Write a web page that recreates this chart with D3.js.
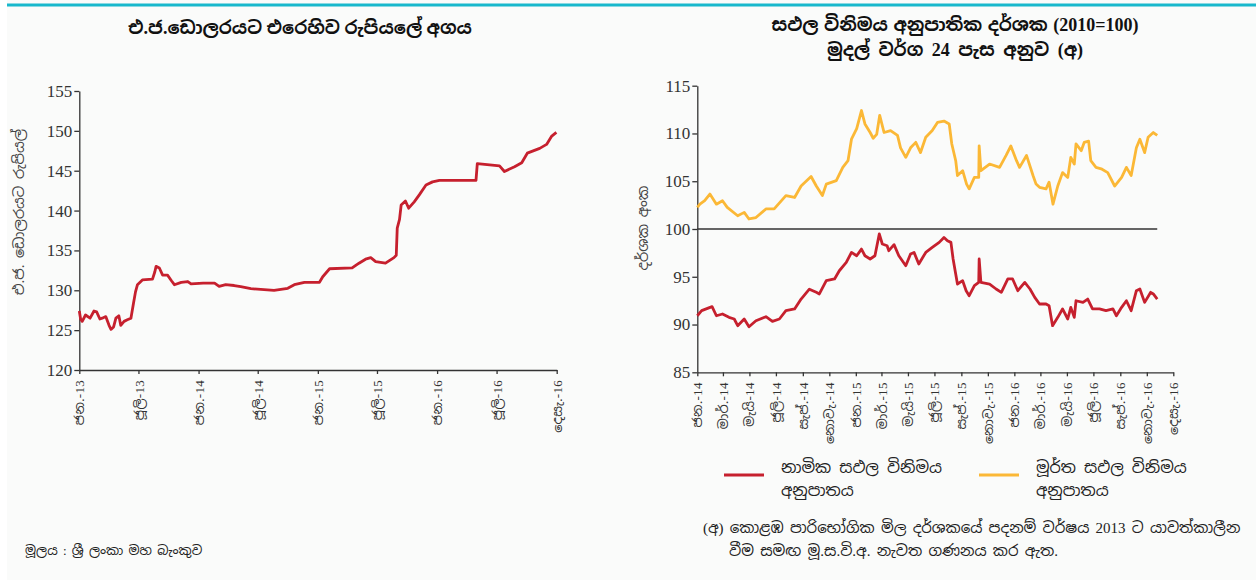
<!DOCTYPE html>
<html><head><meta charset="utf-8">
<script src="https://cdn.jsdelivr.net/npm/d3@7"></script>
<style>
html,body{margin:0;padding:0;background:#fafbfa;}
svg{display:block;}
.sin{font-family:"Liberation Serif","Noto Sans Sinhala","Iskoola Pota","Noto Serif Sinhala",serif;}
</style></head>
<body><svg id="c" width="1256" height="580"></svg>
<script>
// ---------- Left chart: LKR per USD ----------
const usdDates = ["2013-01-01","2013-01-05","2013-01-10","2013-01-20","2013-02-03","2013-02-15","2013-02-23","2013-03-05","2013-03-12","2013-03-23","2013-04-02","2013-04-08","2013-04-16","2013-04-23","2013-05-02","2013-05-08","2013-05-18","2013-05-28","2013-06-08","2013-06-16","2013-06-22","2013-06-28","2013-07-13","2013-08-13","2013-08-20","2013-08-24","2013-09-03","2013-09-13","2013-09-28","2013-10-10","2013-10-19","2013-11-09","2013-11-29","2013-12-09","2014-01-15","2014-02-19","2014-03-05","2014-03-25","2014-04-20","2014-05-10","2014-06-10","2014-08-20","2014-10-01","2014-10-21","2014-11-21","2015-01-06","2015-01-16","2015-02-06","2015-04-16","2015-05-07","2015-05-27","2015-06-12","2015-06-27","2015-07-27","2015-08-22","2015-08-29","2015-09-01","2015-09-08","2015-09-13","2015-09-26","2015-10-06","2015-10-23","2015-11-08","2015-11-28","2015-12-18","2016-01-08","2016-04-29","2016-05-03","2016-07-10","2016-07-25","2016-08-25","2016-09-16","2016-10-03","2016-11-10","2016-12-01","2016-12-16","2016-12-31"];
const usdValues = [127.4,126.4,126.1,126.9,126.5,127.4,127.3,126.4,126.5,126.7,125.6,125.1,125.4,126.5,126.8,125.6,126.1,126.3,126.5,128.4,129.8,130.7,131.3,131.4,132.3,133.0,132.8,131.9,131.9,131.2,130.7,131.0,131.1,130.8,130.9,130.9,130.5,130.7,130.6,130.45,130.2,130.0,130.25,130.7,131.0,131.0,131.7,132.7,132.8,133.4,133.9,134.1,133.6,133.4,134.1,134.4,137.8,138.9,140.7,141.2,140.3,141.1,142.0,143.2,143.6,143.8,143.8,145.9,145.6,144.9,145.5,146.0,147.2,147.8,148.3,149.3,149.8];
const leftYTicks = [120,125,130,135,140,145,150,155];
const leftXTickDates = ["2013-01-01","2013-07-01","2014-01-01","2014-07-01","2015-01-01","2015-07-01","2016-01-01","2016-07-01","2017-01-01"];
const leftXTickLabels = ["ජන.-13","ජූලි-13","ජන.-14","ජූලි-14","ජන.-15","ජූලි-15","ජන.-16","ජූලි-16","දෙසැ.-16"];

// ---------- Right chart: NEER / REER ----------
const neerDates = ["2014-01-01","2014-01-11","2014-02-04","2014-02-14","2014-02-28","2014-03-15","2014-03-27","2014-04-04","2014-04-19","2014-04-30","2014-05-16","2014-06-08","2014-06-23","2014-07-09","2014-07-24","2014-08-13","2014-08-28","2014-09-16","2014-10-02","2014-10-09","2014-10-25","2014-11-13","2014-11-24","2014-12-10","2014-12-22","2015-01-03","2015-01-14","2015-01-22","2015-02-03","2015-02-14","2015-02-24","2015-03-03","2015-03-14","2015-03-18","2015-03-30","2015-04-10","2015-04-26","2015-05-07","2015-05-15","2015-05-26","2015-06-11","2015-06-26","2015-07-12","2015-07-23","2015-07-31","2015-08-08","2015-08-13","2015-08-19","2015-08-23","2015-09-04","2015-09-12","2015-09-19","2015-10-01","2015-10-11","2015-10-12","2015-10-16","2015-11-05","2015-11-20","2015-12-02","2015-12-17","2015-12-28","2016-01-09","2016-01-25","2016-02-06","2016-02-17","2016-02-28","2016-03-14","2016-03-21","2016-03-29","2016-04-10","2016-04-21","2016-05-03","2016-05-10","2016-05-18","2016-05-22","2016-06-07","2016-06-18","2016-06-29","2016-07-15","2016-07-30","2016-08-15","2016-08-23","2016-09-04","2016-09-15","2016-09-26","2016-10-08","2016-10-16","2016-10-27","2016-11-10","2016-11-16","2016-11-25"];
const neerValues = [90.92,91.45,91.87,90.92,91.1,90.75,90.58,89.88,90.58,89.77,90.4,90.82,90.33,90.58,91.45,91.63,92.67,93.7,93.37,93.2,94.59,94.77,95.63,96.5,97.55,97.2,97.9,97.2,96.86,97.2,99.48,98.43,98.25,97.73,98.36,97.2,96.16,97.38,97.55,96.34,97.55,98.07,98.6,99.12,98.78,98.6,96.86,95.29,94.24,94.59,93.54,93.02,94.07,94.41,96.86,94.41,94.24,93.72,93.37,94.77,94.77,93.54,94.41,93.72,92.84,92.15,92.15,91.97,89.88,90.75,91.63,90.58,91.8,90.75,92.49,92.32,92.67,91.63,91.63,91.45,91.63,90.92,91.8,92.49,91.45,93.54,93.72,92.32,93.37,93.2,92.67];
const reerDates = ["2014-01-01","2014-01-07","2014-01-18","2014-01-30","2014-02-14","2014-02-28","2014-03-11","2014-04-04","2014-04-19","2014-04-30","2014-05-16","2014-06-08","2014-06-27","2014-07-24","2014-08-13","2014-08-28","2014-09-20","2014-10-02","2014-10-16","2014-10-25","2014-11-17","2014-12-02","2014-12-14","2014-12-22","2015-01-03","2015-01-14","2015-01-22","2015-02-03","2015-02-10","2015-02-18","2015-02-25","2015-03-07","2015-03-22","2015-04-07","2015-04-14","2015-04-26","2015-05-07","2015-05-19","2015-05-30","2015-06-11","2015-06-26","2015-07-08","2015-07-23","2015-08-04","2015-08-10","2015-08-19","2015-08-23","2015-09-04","2015-09-13","2015-09-19","2015-10-01","2015-10-11","2015-10-12","2015-10-16","2015-11-05","2015-11-28","2015-12-13","2015-12-24","2016-01-06","2016-01-13","2016-01-29","2016-02-13","2016-02-20","2016-02-28","2016-03-14","2016-03-21","2016-03-30","2016-04-10","2016-04-21","2016-05-03","2016-05-10","2016-05-18","2016-05-22","2016-06-03","2016-06-10","2016-06-20","2016-06-25","2016-07-07","2016-07-19","2016-08-03","2016-08-19","2016-09-04","2016-09-15","2016-09-26","2016-10-08","2016-10-16","2016-10-27","2016-11-04","2016-11-16","2016-11-25"];
const reerValues = [102.26,102.6,102.96,103.66,102.6,102.96,102.26,101.39,101.74,101.05,101.2,102.1,102.1,103.5,103.3,104.5,105.5,104.5,103.5,104.7,105.06,106.45,107.15,109.4,110.5,112.4,111.0,110.1,109.5,109.9,111.9,110.1,110.3,109.8,108.5,107.5,108.5,109.07,108.0,109.6,110.3,111.16,111.3,111.0,108.9,107.15,105.6,106.1,104.7,104.2,105.4,105.4,108.7,106.1,106.8,106.45,107.7,108.7,107.15,106.45,107.7,105.6,104.7,104.36,104.2,104.9,102.6,104.5,105.9,105.4,107.5,106.8,108.9,108.2,109.07,109.2,107.15,106.45,106.3,105.9,104.5,105.4,106.45,105.6,108.5,109.4,108.0,109.6,110.1,109.8];
const rightYTicks = [85,90,95,100,105,110,115];
const rightXTickDates = ["2014-01-01","2014-03-01","2014-05-01","2014-07-01","2014-09-01","2014-11-01","2015-01-01","2015-03-01","2015-05-01","2015-07-01","2015-09-01","2015-11-01","2016-01-01","2016-03-01","2016-05-01","2016-07-01","2016-09-01","2016-11-01","2017-01-01"];
const rightXTickLabels = ["ජන.-14","මාර්.-14","මැයි-14","ජූලි-14","සැප්.-14","නොවැ.-14","ජන.-15","මාර්.-15","මැයි-15","ජූලි-15","සැප්.-15","නොවැ.-15","ජන.-16","මාර්.-16","මැයි-16","ජූලි-16","සැප්.-16","නොවැ.-16","දෙසැ.-16"];

const seriesNames = ["නාමික සඵල විනිමය|අනුපාතය","මූර්ත සඵල විනිමය|අනුපාතය"];
const RED = "#c6202e", YEL = "#fbb836", AX = "#333";
const parse = d3.timeParse("%Y-%m-%d");
const svg = d3.select("#c");

// frame
svg.append("rect").attr("x",0).attr("y",0).attr("width",7).attr("height",580).attr("fill","#ffffff");
svg.append("line").attr("x1",7).attr("x2",1256).attr("y1",5).attr("y2",5).attr("stroke","#18b8cc").attr("stroke-width",3);

function axisStyle(g){
  g.selectAll("path.domain").attr("stroke",AX).attr("stroke-width",1.3);
  g.selectAll(".tick line").attr("stroke",AX).attr("stroke-width",1.3);
}

function drawChart(o){
  const x = d3.scaleTime().domain([parse(o.x0),parse(o.x1)]).range([o.left,o.right]);
  const y = d3.scaleLinear().domain(o.ydom).range([o.bottom,o.top]);
  const gy = svg.append("g").attr("transform",`translate(${o.left},0)`)
    .call(d3.axisLeft(y).tickValues(o.yticks).tickSize(5).tickSizeOuter(0).tickPadding(2));
  axisStyle(gy);
  gy.selectAll("text").attr("font-family","Liberation Serif, serif").attr("font-size",17).attr("fill","#333");
  const gx = svg.append("g").attr("transform",`translate(0,${o.bottom})`)
    .call(d3.axisBottom(x).tickValues(o.xticks.map(parse)).tickSize(4).tickSizeOuter(0).tickFormat((d,i)=>o.xlabels[i]));
  axisStyle(gx);
  gx.selectAll("text").attr("class","sin").attr("font-family",null).attr("font-size",13).attr("fill","#333")
    .attr("letter-spacing",0.3)
    .attr("text-anchor","end").attr("transform","translate(0,2) rotate(-90)").attr("x",-8).attr("y",0).attr("dy","0.35em");
  return {x,y};
}

// Left chart
const L = drawChart({x0:"2013-01-01",x1:"2017-01-01",left:79.3,right:556.7,top:91,bottom:370,ydom:[120,155],
  yticks:leftYTicks,xticks:leftXTickDates,xlabels:leftXTickLabels});
svg.append("path").datum(usdDates.map((d,i)=>[parse(d),usdValues[i]]))
  .attr("fill","none").attr("stroke",RED).attr("stroke-width",2.8).attr("stroke-linejoin","round")
  .attr("d",d3.line().x(d=>L.x(d[0])).y(d=>L.y(d[1])));

// Right chart
const R = drawChart({x0:"2014-01-01",x1:"2017-01-01",left:697.3,right:1173.3,top:85.7,bottom:372.3,ydom:[85,115],
  yticks:rightYTicks,xticks:rightXTickDates,xlabels:rightXTickLabels});
svg.append("line").attr("x1",R.x(parse(neerDates[0]))).attr("x2",R.x(parse(neerDates[neerDates.length-1])))
  .attr("y1",R.y(100)).attr("y2",R.y(100)).attr("stroke",AX).attr("stroke-width",1.5);
svg.append("path").datum(reerDates.map((d,i)=>[parse(d),reerValues[i]]))
  .attr("fill","none").attr("stroke",YEL).attr("stroke-width",2.8).attr("stroke-linejoin","round")
  .attr("d",d3.line().x(d=>R.x(d[0])).y(d=>R.y(d[1])));
svg.append("path").datum(neerDates.map((d,i)=>[parse(d),neerValues[i]]))
  .attr("fill","none").attr("stroke",RED).attr("stroke-width",2.8).attr("stroke-linejoin","round")
  .attr("d",d3.line().x(d=>R.x(d[0])).y(d=>R.y(d[1])));

// Titles
function title(x,y,t,ws){
  svg.append("text").attr("class","sin").attr("x",x).attr("y",y).attr("text-anchor","middle")
    .attr("font-size",18).attr("font-weight","bold").attr("fill","#111").attr("word-spacing",ws).text(t);
}
title(300,34,"එ.ජ.ඩොලරයට එරෙහිව රුපියලේ අගය",0);
title(955,31,"සඵල විනිමය අනුපාතික දර්ශක  (2010=100)",1);
title(955,56,"මුදල් වර්ග 24 පැස අනුව (අ)",4);

// Axis titles
svg.append("text").attr("class","sin").attr("transform","translate(24,212) rotate(-90)").attr("text-anchor","middle")
  .attr("font-size",14.5).attr("fill","#444").attr("word-spacing",3).text("එ.ජ. ඩොලරයට  රුපියල්");
svg.append("text").attr("class","sin").attr("transform","translate(648,228) rotate(-90)").attr("text-anchor","middle")
  .attr("font-size",14.5).attr("fill","#444").attr("word-spacing",3).text("දර්ශක අංක");

// Legend
const lg = [{x:724,c:RED,t:seriesNames[0]},{x:979,c:YEL,t:seriesNames[1]}];
lg.forEach(l=>{
  svg.append("line").attr("x1",l.x).attr("x2",l.x+40).attr("y1",475).attr("y2",475).attr("stroke",l.c).attr("stroke-width",2.8);
  l.t.split("|").forEach((p,i)=>svg.append("text").attr("class","sin").attr("x",l.x+57).attr("y",473+i*23)
    .attr("font-size",16).attr("fill","#222").attr("word-spacing",4).text(p));
});

// Footnote & source
svg.append("text").attr("class","sin").attr("x",703).attr("y",533).attr("font-size",15).attr("fill","#222")
  .attr("word-spacing",2.5).text("(අ) කොළඹ පාරිභෝගික මිල දර්ශකයේ පදනම් වර්ෂය 2013 ට යාවත්කාලීන");
svg.append("text").attr("class","sin").attr("x",729).attr("y",556).attr("font-size",15).attr("fill","#222")
  .attr("word-spacing",2.5).text("වීම සමඟ මූ.ස.වි.අ. නැවත ගණනය කර ඇත.");
svg.append("text").attr("class","sin").attr("x",25).attr("y",555).attr("font-size",13).attr("fill","#222")
  .attr("word-spacing",2).text("මූලය : ශ්‍රී ලංකා මහ බැංකුව");
</script></body></html>
